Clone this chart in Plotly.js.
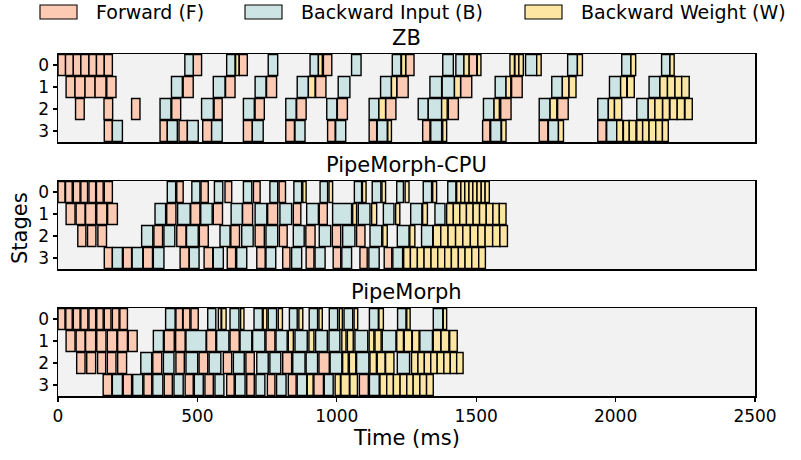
<!DOCTYPE html>
<html>
<head>
<meta charset="utf-8">
<script src="https://cdn.plot.ly/plotly-3.0.1.min.js"></script>
<style>html,body{margin:0;padding:0;background:#fff;}#chart{width:801px;height:460px;}</style>
</head>
<body>
<div id="chart"></div>
<script>
// ---- Data: [start, end] in ms, per panel / stage / op type ----
// ZB
const zb_s0_F = [[0,27],[27,55],[55,82],[82,111],[111,138],[138,166],[166,195],[485,515],[650,679],[952,982],[1247,1277],[1474,1502]];
const zb_s0_B = [[455,485],[605,635],[754,788],[904,934],[1053,1087],[1199,1230],[1380,1418],[1427,1456],[1677,1717],[1828,1863],[2022,2055],[2165,2195]];
const zb_s0_W = [[637,649],[934,948],[1232,1247],[1456,1474],[1504,1517],[1621,1637],[1639,1653],[1653,1669],[1717,1733],[1863,1881],[2055,2072],[2195,2210]];
const zb_s1_F = [[29,61],[61,97],[97,133],[133,172],[175,208],[449,485],[601,635],[748,784],[924,961],[1215,1256],[1444,1484],[1627,1665]];
const zb_s1_B = [[407,446],[557,599],[707,746],[858,898],[1005,1047],[1157,1196],[1334,1376],[1378,1422],[1568,1607],[1771,1809],[1978,2018],[2120,2159]];
const zb_s1_W = [[898,922],[1196,1215],[1422,1444],[1607,1624],[1809,1833],[1833,1858],[2018,2040],[2042,2067],[2159,2186],[2186,2213],[2213,2237],[2237,2264]];
const zb_s2_F = [[63,94],[165,196],[264,294],[408,440],[560,589],[707,740],[856,890],[1002,1038],[1175,1212],[1400,1436],[1588,1625],[1792,1830]];
const zb_s2_B = [[366,405],[515,557],[665,704],[817,854],[964,1000],[1116,1151],[1292,1328],[1328,1376],[1526,1564],[1726,1765],[1936,1974],[2076,2117]];
const zb_s2_W = [[1151,1175],[1376,1396],[1564,1583],[1765,1789],[1974,1996],[1996,2022],[2117,2141],[2141,2168],[2169,2193],[2195,2221],[2221,2247],[2249,2275]];
const zb_s3_F = [[166,195],[366,392],[434,464],[519,551],[665,697],[817,848],[967,994],[1116,1143],[1308,1334],[1523,1549],[1726,1757],[1936,1966]];
const zb_s3_B = [[195,231],[392,428],[464,503],[551,589],[697,736],[850,886],[996,1032],[1145,1181],[1337,1376],[1552,1589],[1759,1795],[1968,2004]];
const zb_s3_W = [[1183,1196],[1380,1394],[1591,1607],[1795,1813],[2004,2026],[2028,2049],[2049,2073],[2076,2097],[2097,2120],[2120,2144],[2144,2168],[2168,2189]];
// PipeMorph-CPU
const cpu_s0_F = [[0,25],[27,51],[55,79],[82,106],[111,135],[138,162],[166,195],[426,449],[513,539],[599,623],[701,725],[793,816]];
const cpu_s0_B = [[392,422],[480,509],[561,591],[665,695],[760,788],[846,874],[940,967],[1063,1089],[1127,1158],[1215,1239],[1310,1340],[1398,1427]];
const cpu_s0_W = [[878,890],[972,985],[1092,1105],[1162,1175],[1245,1259],[1344,1358],[1430,1445],[1445,1459],[1459,1474],[1474,1488],[1488,1503],[1503,1518],[1518,1532],[1532,1547]];
const cpu_s1_F = [[29,61],[65,97],[99,135],[139,175],[178,213],[390,423],[476,509],[557,590],[662,698],[752,788],[844,871],[937,966]];
const cpu_s1_B = [[348,386],[429,474],[512,553],[621,661],[707,749],[796,838],[892,934],[985,1053],[1077,1119],[1167,1205],[1265,1305],[1352,1388]];
const cpu_s1_W = [[1057,1071],[1125,1143],[1211,1226],[1308,1325],[1394,1418],[1418,1441],[1441,1465],[1465,1489],[1489,1512],[1512,1536],[1536,1560],[1560,1583],[1583,1607]];
const cpu_s2_F = [[71,100],[106,136],[143,174],[344,375],[426,459],[507,539],[620,651],[707,740],[794,822],[889,922],[984,1014],[1071,1101]];
const cpu_s2_B = [[300,340],[380,419],[461,503],[581,617],[659,700],[746,788],[844,883],[937,978],[1021,1065],[1119,1161],[1217,1259],[1304,1344]];
const cpu_s2_W = [[1165,1181],[1262,1280],[1346,1373],[1373,1399],[1399,1426],[1426,1452],[1452,1479],[1479,1506],[1506,1532],[1532,1559],[1559,1585],[1585,1612]];
const cpu_s3_F = [[166,195],[234,264],[306,339],[438,470],[524,555],[607,637],[713,743],[806,832],[890,918],[987,1014],[1083,1109],[1170,1197]];
const cpu_s3_B = [[195,231],[266,304],[342,380],[471,506],[557,593],[641,677],[746,781],[838,874],[922,958],[1018,1053],[1115,1152],[1201,1236]];
const cpu_s3_W = [[1240,1264],[1264,1289],[1289,1313],[1313,1338],[1338,1362],[1362,1387],[1387,1411],[1411,1436],[1436,1460],[1460,1484],[1484,1509],[1509,1533]];
// PipeMorph
const pm_s0_F = [[0,25],[28,51],[55,79],[82,107],[111,135],[139,162],[166,190],[195,219],[222,249],[423,447],[449,473],[477,503]];
const pm_s0_B = [[386,420],[537,566],[617,649],[703,733],[754,784],[830,858],[901,931],[973,1003],[1026,1057],[1117,1149],[1218,1248],[1346,1380]];
const pm_s0_W = [[575,585],[587,603],[655,667],[736,749],[790,805],[864,878],[936,948],[1009,1020],[1062,1075],[1151,1167],[1251,1263],[1382,1394]];
const pm_s1_F = [[29,61],[65,97],[99,135],[139,172],[177,211],[214,249],[252,284],[381,417],[422,456],[533,566],[617,650],[746,778]];
const pm_s1_B = [[342,378],[459,531],[569,613],[653,695],[698,742],[782,822],[850,894],[924,966],[972,1011],[1065,1111],[1163,1212],[1298,1343]];
const pm_s1_W = [[826,844],[900,918],[1018,1033],[1038,1059],[1116,1133],[1137,1159],[1215,1239],[1242,1269],[1271,1295],[1346,1373],[1374,1402],[1405,1432]];
const pm_s2_F = [[67,97],[103,135],[142,171],[177,208],[214,246],[340,372],[423,453],[506,537],[593,623],[674,704],[806,838],[936,973]];
const pm_s2_B = [[297,336],[378,416],[459,501],[542,584],[629,668],[713,754],[760,799],[842,886],[890,931],[976,1018],[1071,1115],[1217,1261]];
const pm_s2_W = [[1021,1041],[1045,1068],[1119,1142],[1145,1173],[1175,1205],[1268,1291],[1291,1314],[1314,1337],[1337,1360],[1360,1384],[1384,1407],[1407,1430],[1430,1453]];
const pm_s3_F = [[162,193],[234,264],[308,336],[381,410],[456,485],[527,557],[605,632],[677,704],[751,778],[826,854],[918,952],[1081,1113]];
const pm_s3_B = [[195,231],[268,304],[340,376],[416,449],[489,521],[563,595],[636,671],[710,742],[784,818],[858,892],[955,987],[1117,1152]];
const pm_s3_W = [[894,915],[994,1013],[1015,1045],[1047,1074],[1155,1179],[1179,1203],[1203,1227],[1227,1251],[1251,1274],[1274,1298],[1298,1322],[1322,1346]];

const panelTitles = ['ZB', 'PipeMorph-CPU', 'PipeMorph'];
const stageTicks = [0, 1, 2, 3];
const opNames = ['Forward (F)', 'Backward Input (B)', 'Backward Weight (W)'];
const xTicks = [0, 500, 1000, 1500, 2000, 2500];

// ---- Build traces ----
const panelData = [
  {F:[zb_s0_F,zb_s1_F,zb_s2_F,zb_s3_F], B:[zb_s0_B,zb_s1_B,zb_s2_B,zb_s3_B], W:[zb_s0_W,zb_s1_W,zb_s2_W,zb_s3_W]},
  {F:[cpu_s0_F,cpu_s1_F,cpu_s2_F,cpu_s3_F], B:[cpu_s0_B,cpu_s1_B,cpu_s2_B,cpu_s3_B], W:[cpu_s0_W,cpu_s1_W,cpu_s2_W,cpu_s3_W]},
  {F:[pm_s0_F,pm_s1_F,pm_s2_F,pm_s3_F], B:[pm_s0_B,pm_s1_B,pm_s2_B,pm_s3_B], W:[pm_s0_W,pm_s1_W,pm_s2_W,pm_s3_W]}
];
const colors = {F:'#fccab3', B:'#cce4e3', W:'#fce6a1'};
const traces = [];
panelData.forEach((pd, pi) => {
  const sfx = pi === 0 ? '' : String(pi + 1);
  ['F','B','W'].forEach(t => {
    const ys = [], xs = [], bs = [];
    pd[t].forEach((list, stage) => {
      list.forEach(([s, e]) => { ys.push(stage); bs.push(s); xs.push(e - s); });
    });
    traces.push({
      type:'bar', orientation:'h', y:ys, x:xs, base:bs, width:0.96,
      xaxis:'x'+sfx, yaxis:'y'+sfx, showlegend:false, hoverinfo:'skip',
      marker:{color:colors[t], line:{color:'#000', width:1.4}}
    });
  });
});

// ---- Layout (pixel helpers) ----
const L = 58, R = 755, T = 54, B = 396;
const px = x => (x - L) / (R - L);
const py = y => (B - y) / (B - T);
const font = 'DejaVu Sans, Liberation Sans, sans-serif';

const yDomains = [[py(142), 1], [py(269), py(181)], [0, py(308)]];
const layout = {
  width:801, height:460,
  margin:{l:L, r:801-R, t:T, b:460-B, pad:0},
  paper_bgcolor:'#ffffff', plot_bgcolor:'#f2f2f2',
  barmode:'overlay', showlegend:false,
  font:{family:font, color:'#000'},
  shapes:[], annotations:[]
};
for (let i = 0; i < 3; i++) {
  const sfx = i === 0 ? '' : String(i + 1);
  layout['xaxis'+sfx] = {
    anchor:'y'+sfx, domain:[0,1], range:[0,2500], showgrid:false, zeroline:false,
    showline:true, mirror:true, linecolor:'#000', linewidth:1.5,
    tickvals:xTicks, ticks: i === 2 ? 'outside' : '', ticklen:4, tickwidth:1.2, tickcolor:'#000',
    showticklabels: i === 2, tickfont:{family:font, size:17, color:'#000'}
  };
  layout['yaxis'+sfx] = {
    anchor:'x'+sfx, domain:yDomains[i], range:[3.5,-0.5], showgrid:false, zeroline:false,
    showline:true, mirror:true, linecolor:'#000', linewidth:1.5,
    tickvals:stageTicks, ticktext:stageTicks.map(String), ticks:'outside', ticklen:4, tickwidth:1.2, tickcolor:'#000',
    tickfont:{family:font, size:17, color:'#000'}
  };
}
// panel titles
const titleY = [38, 165, 292];
panelTitles.forEach((t, i) => layout.annotations.push({
  text:t, xref:'paper', yref:'paper', x:0.5, y:py(titleY[i]), xanchor:'center', yanchor:'middle',
  showarrow:false, font:{family:font, size:21, color:'#000'}
}));
// axis labels
layout.annotations.push({text:'Time (ms)', xref:'paper', yref:'paper', x:0.5, y:py(438), xanchor:'center', yanchor:'middle', showarrow:false, font:{family:font, size:21, color:'#000'}});
layout.annotations.push({text:'Stages', xref:'paper', yref:'paper', x:px(20), y:py(228), xanchor:'center', yanchor:'middle', textangle:-90, showarrow:false, font:{family:font, size:21, color:'#000'}});
// legend (drawn as patches + labels)
const legPatchX = [40, 245, 525], legTextX = [94, 299, 579];
['F','B','W'].forEach((t, i) => {
  layout.shapes.push({type:'rect', xref:'paper', yref:'paper', x0:px(legPatchX[i]), x1:px(legPatchX[i]+37), y0:py(19), y1:py(5),
    fillcolor:colors[t], line:{color:'#000', width:1.1}});
  layout.annotations.push({text:opNames[i], xref:'paper', yref:'paper', x:px(legTextX[i]), y:py(12), xanchor:'left', yanchor:'middle',
    showarrow:false, font:{family:font, size:19, color:'#000'}});
});

Plotly.newPlot('chart', traces, layout, {staticPlot:true, displayModeBar:false});
</script>
</body>
</html>
